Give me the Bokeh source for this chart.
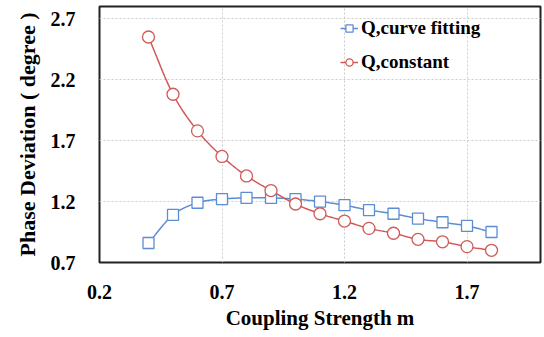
import numpy as np
from bokeh.plotting import figure
from bokeh.models import Range1d, FixedTicker, Legend, LegendItem
from bokeh.embed import file_html
from bokeh.resources import INLINE

m = [0.4, 0.5, 0.6, 0.7, 0.8, 0.9, 1.0, 1.1, 1.2, 1.3, 1.4, 1.5, 1.6, 1.7, 1.8]
q_fit = [0.86, 1.09, 1.19, 1.22, 1.23, 1.23, 1.22, 1.20, 1.17, 1.13, 1.10, 1.06, 1.03, 1.00, 0.95]
q_const = [2.55, 2.08, 1.78, 1.57, 1.41, 1.29, 1.18, 1.10, 1.04, 0.98, 0.94, 0.89, 0.87, 0.83, 0.80]
x_ticks = [0.2, 0.7, 1.2, 1.7]
y_ticks = [0.7, 1.2, 1.7, 2.2, 2.7]
names = ["Q,curve fitting", "Q,constant"]

BLUE = "#5b8dd3"
RED = "#cf5a57"
FONT = "Liberation Serif"


def smooth(xs, ys, n=12):
    # Catmull-Rom drawing path through the data points (rendering only)
    xs = np.asarray(xs, float); ys = np.asarray(ys, float)
    px = np.concatenate([[2 * xs[0] - xs[1]], xs, [2 * xs[-1] - xs[-2]]])
    py = np.concatenate([[2 * ys[0] - ys[1]], ys, [2 * ys[-1] - ys[-2]]])
    ox, oy = [], []
    for i in range(1, len(px) - 2):
        t = np.linspace(0, 1, n, endpoint=False)
        for arr, out in ((px, ox), (py, oy)):
            p0, p1, p2, p3 = arr[i - 1], arr[i], arr[i + 1], arr[i + 2]
            out.extend(0.5 * ((2 * p1) + (-p0 + p2) * t + (2 * p0 - 5 * p1 + 4 * p2 - p3) * t ** 2
                              + (-p0 + 3 * p1 - 3 * p2 + p3) * t ** 3))
    ox.append(xs[-1]); oy.append(ys[-1])
    return ox, oy


p = figure(width=544, height=337, output_backend="svg", toolbar_location=None,
           x_range=Range1d(0.2, 2.0), y_range=Range1d(0.7, 2.8),
           min_border_left=99, min_border_right=4, min_border_top=6, min_border_bottom=75)

p.outline_line_color = "#222222"
p.outline_line_width = 2
p.background_fill_color = "white"
p.border_fill_color = "white"

for ax in (p.xaxis[0], p.yaxis[0]):
    ax.axis_line_color = None
    ax.major_tick_line_color = None
    ax.minor_tick_line_color = None
    ax.major_label_text_font = FONT
    ax.major_label_text_font_style = "bold"
    ax.major_label_text_font_size = "20px"
    ax.major_label_text_color = "black"
    ax.axis_label_text_font = FONT
    ax.axis_label_text_font_style = "bold"
    ax.axis_label_text_color = "black"

p.xaxis.axis_label_text_font_size = "21px"
p.yaxis.axis_label_text_font_size = "22px"
p.xaxis.ticker = FixedTicker(ticks=x_ticks)
p.yaxis.ticker = FixedTicker(ticks=y_ticks)
p.xaxis.major_label_overrides = {t: f"{t:.1f}" for t in x_ticks}
p.yaxis.major_label_overrides = {t: f"{t:.1f}" for t in y_ticks}
p.xaxis.major_label_standoff = 16
p.yaxis.major_label_standoff = 18
p.xaxis.axis_label = "Coupling Strength m"
p.yaxis.axis_label = "Phase Deviation ( degree )"
p.xaxis.axis_label_standoff = 4
p.yaxis.axis_label_standoff = 8

p.grid.grid_line_color = "#cccccc"
p.grid.grid_line_dash = "2 2"
p.grid.grid_line_width = 1

bx, by = smooth(m, q_fit)
rx, ry = smooth(m, q_const)
bl = p.line(bx, by, line_color=BLUE, line_width=1.5)
rl = p.line(rx, ry, line_color=RED, line_width=1.5)
bs = p.scatter(m, q_fit, marker="square", size=11, fill_color="white", line_color=BLUE, line_width=1.3)
rs = p.scatter(m, q_const, marker="circle", size=12, fill_color="white", line_color=RED, line_width=1.3)

legend = Legend(items=[LegendItem(label=names[0], renderers=[bl, bs]),
                       LegendItem(label=names[1], renderers=[rl, rs])],
                location=(241, 189))
legend.border_line_color = None
legend.background_fill_alpha = 0
legend.label_text_font = FONT
legend.label_text_font_style = "bold"
legend.label_text_font_size = "19px"
legend.label_text_color = "black"
legend.glyph_width = 18
legend.glyph_height = 20
legend.label_height = 20
legend.label_standoff = 3
legend.spacing = 12
legend.padding = 4
p.add_layout(legend)

open("out.html", "w").write(file_html(p, INLINE))
